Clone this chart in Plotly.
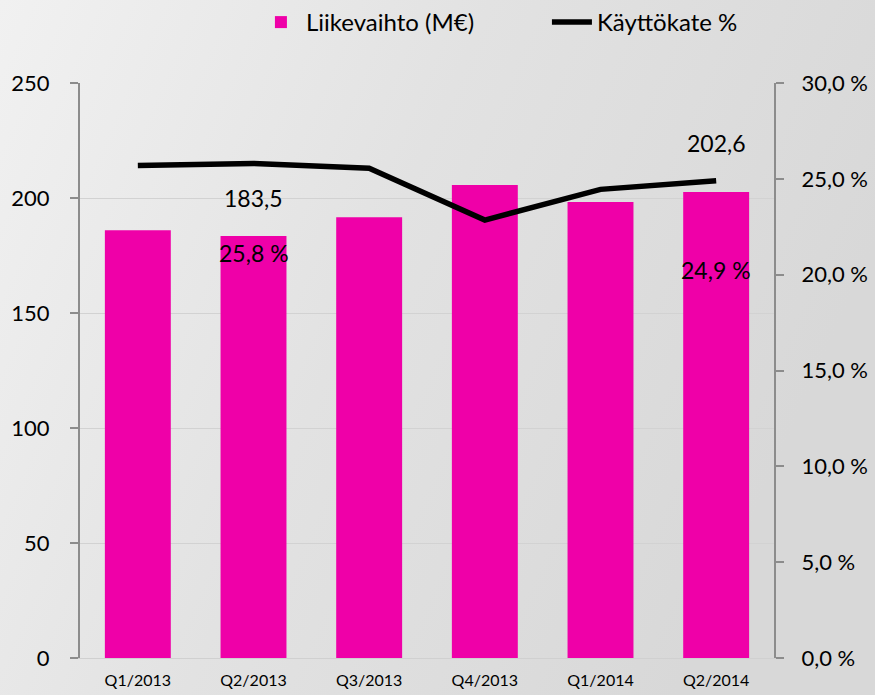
import base64
import plotly.graph_objects as go

categories = ["Q1/2013", "Q2/2013", "Q3/2013", "Q4/2013", "Q1/2014", "Q2/2014"]
revenue = [186.0, 183.5, 191.6, 205.6, 198.3, 202.6]
ebitda_pct = [25.7, 25.8, 25.55, 22.85, 24.45, 24.9]
left_ticks = [0, 50, 100, 150, 200, 250]
right_ticks = [0, 5, 10, 15, 20, 25, 30]
right_ticktext = ["0,0 %", "5,0 %", "10,0 %", "15,0 %", "20,0 %", "25,0 %", "30,0 %"]
rev_labels = [(1, "183,5"), (5, "202,6")]
pct_labels = [(1, "25,8 %"), (5, "24,9 %")]

FONT = "Lato"
MAG = "#EF00A8"

W, H = 875, 695
L, R, T, B = 80, 101, 83, 37
pw, ph = W - L - R, H - T - B

svg = (
    '<svg xmlns="http://www.w3.org/2000/svg" width="100" height="100" preserveAspectRatio="none">'
    '<defs><linearGradient id="g" x1="0" y1="0" x2="1" y2="0.35">'
    '<stop offset="0" stop-color="#f1f1f1"/><stop offset="0.5" stop-color="#e2e2e2"/>'
    '<stop offset="1" stop-color="#d8d8d8"/></linearGradient></defs>'
    '<rect width="100" height="100" fill="url(#g)"/></svg>'
)
bg_src = "data:image/svg+xml;base64," + base64.b64encode(svg.encode()).decode()

fig = go.Figure()
fig.add_trace(go.Bar(
    x=categories, y=revenue, name="Liikevaihto (M€)",
    marker=dict(color=MAG, line=dict(width=0)), yaxis="y",
))
fig.add_trace(go.Scatter(
    x=categories, y=ebitda_pct, name="Käyttökate %", mode="lines",
    line=dict(color="black", width=5.5), yaxis="y2",
))

annotations = []
shifts_rev = {1: 38, 5: 49}
for i, t in rev_labels:
    annotations.append(dict(x=categories[i], y=revenue[i], yref="y", xref="x", text=t,
                            showarrow=False, yshift=shifts_rev[i],
                            font=dict(family=FONT, size=23, color="black")))
shifts_pct = {1: -17, 5: -78}
for i, t in pct_labels:
    annotations.append(dict(x=categories[i], y=revenue[i], yref="y", xref="x", text=t,
                            showarrow=False, yshift=shifts_pct[i],
                            font=dict(family=FONT, size=23, color="black")))

fig.update_layout(
    width=W, height=H,
    margin=dict(l=L, r=R, t=T, b=B, autoexpand=False),
    paper_bgcolor="#e4e4e4", plot_bgcolor="rgba(0,0,0,0)",
    images=[dict(source=bg_src, xref="paper", yref="paper",
                 x=-L / pw, y=1 + T / ph, sizex=W / pw, sizey=H / ph,
                 xanchor="left", yanchor="top", sizing="stretch", layer="below")],
    bargap=0.43,
    showlegend=True,
    legend=dict(orientation="h", x=0.2535, y=1.0, xref="paper", yref="container",
                xanchor="left", yanchor="top",
                font=dict(family=FONT, size=24, color="black"),
                bgcolor="rgba(0,0,0,0)", itemwidth=40, entrywidth=236),
    xaxis=dict(tickfont=dict(family=FONT, size=16, color="black"), showgrid=False,
               showline=True, linecolor="#d0d0d0", linewidth=1, ticks="",
               ticklabelstandoff=8),
    yaxis=dict(range=[0, 250], tickvals=left_ticks, ticktext=[str(v) for v in left_ticks],
               tickfont=dict(family=FONT, size=22, color="black"),
               showgrid=True, gridcolor="#d2d2d2", gridwidth=1,
               showline=True, linecolor="#8c8c8c", linewidth=2,
               ticks="outside", ticklen=8, tickcolor="#8c8c8c", tickwidth=2,
               zeroline=False, ticklabelstandoff=16),
    yaxis2=dict(range=[0, 30], overlaying="y", side="right",
                tickvals=right_ticks, ticktext=right_ticktext,
                tickfont=dict(family=FONT, size=22, color="black"),
                showgrid=False, showline=True, linecolor="#8c8c8c", linewidth=2,
                ticks="outside", ticklen=8, tickcolor="#8c8c8c", tickwidth=2,
                zeroline=False, ticklabelstandoff=13),
    annotations=annotations,
    font=dict(family=FONT),
)

fig.write_html("out.html", config={"displayModeBar": False},
               post_script="document.body.style.margin='0';document.body.style.overflow='hidden';")
